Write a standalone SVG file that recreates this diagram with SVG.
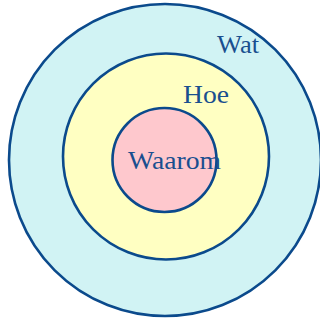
<svg xmlns="http://www.w3.org/2000/svg" width="320" height="320" viewBox="0 0 320 320">
<style>
.ring{stroke:#0b4a8c;stroke-width:2.6}
.lbl{font-family:"Liberation Serif","Times New Roman",serif;font-size:26px;fill:#1a4f8f}
</style>
<rect width="320" height="320" fill="#ffffff"/>
<g id="wat">
<circle class="ring" cx="165" cy="160" r="156" fill="#d1f3f4"/>
<text class="lbl" x="217" y="53" textLength="42" lengthAdjust="spacingAndGlyphs">Wat</text>
</g>
<g id="hoe">
<circle class="ring" cx="166" cy="156.5" r="103" fill="#ffffc2"/>
<text class="lbl" x="183" y="103" textLength="46" lengthAdjust="spacingAndGlyphs">Hoe</text>
</g>
<g id="waarom">
<circle class="ring" cx="164.5" cy="160" r="52" fill="#fec8cd"/>
<text class="lbl" x="128" y="169" textLength="93" lengthAdjust="spacingAndGlyphs">Waarom</text>
</g>
<g id="connectors"/>
</svg>
